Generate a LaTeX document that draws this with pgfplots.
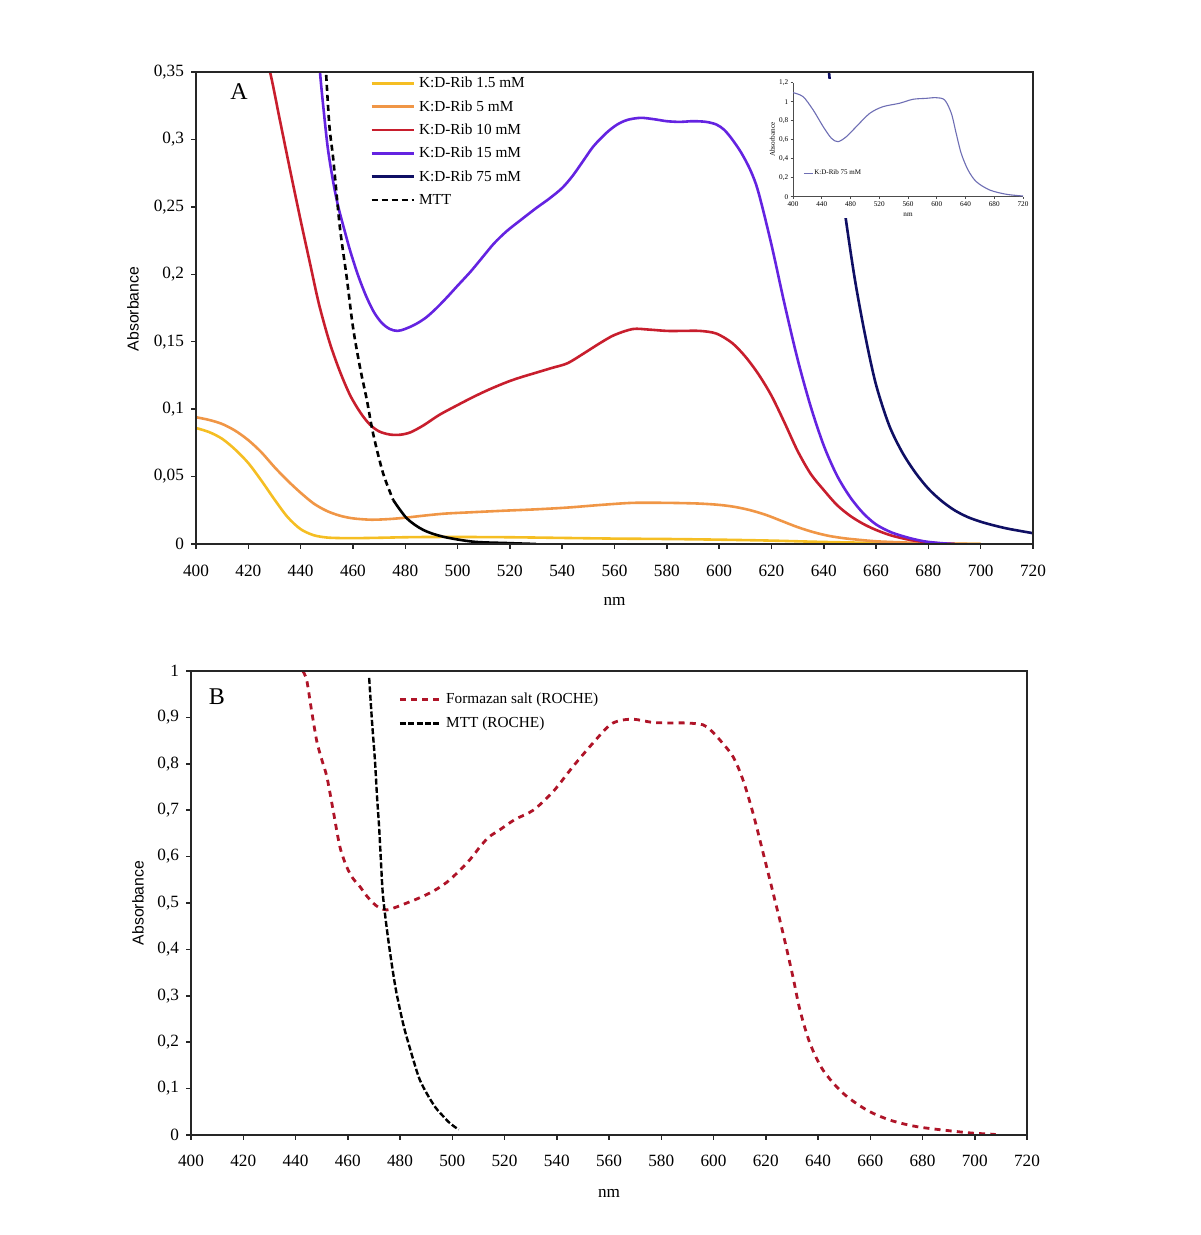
\documentclass[border=0pt]{standalone}
\usepackage{fontspec}
\setmainfont{Liberation Serif}
\newfontfamily\sansf{Liberation Sans}
\usepackage{pgfplots}
\pgfplotsset{compat=1.18}
\definecolor{cA}{RGB}{245,190,35}
\definecolor{cB}{RGB}{240,150,70}
\definecolor{cC}{RGB}{200,30,45}
\definecolor{cD}{RGB}{100,35,225}
\definecolor{cE}{RGB}{15,15,100}
\definecolor{cI}{RGB}{110,110,180}
\definecolor{cF}{RGB}{175,20,40}
\pgfplotsset{
  common/.style={
    scale only axis, anchor=south west,
    xmin=400, xmax=720, xtick={400,420,...,720},
    tick align=outside, tick pos=left, major tick length=2.5pt,
    axis line style={black!85, line width=0.75pt},
    every tick/.style={black!85, line width=0.75pt},
    tick label style={font=\fontsize{8.6}{10}\selectfont},
    /pgf/number format/assume math mode=true,
    /pgf/number format/use comma,
    /pgf/number format/1000 sep={},
    label style={font=\fontsize{8.6}{10}\selectfont},
    clip=true,
  },
}
\begin{document}
\begin{tikzpicture}
\path[use as bounding box] (0pt,0pt) rectangle (600pt,617.5pt);
% ---------------- Panel A ----------------
\begin{axis}[common, name=A,
  at={(98pt,345.5pt)}, width=418.5pt, height=236pt,
  ymin=0, ymax=0.35, ytick={0,0.05,...,0.35},
  yticklabel style={/pgf/number format/fixed, /pgf/number format/precision=2},
  xticklabel style={yshift=-4.5pt},
  axis on top,
  xlabel={nm}, ylabel={\sansf Absorbance},
  xlabel style={at={(axis description cs:0.5,-0.1220)}, anchor=center},
  ylabel style={at={(axis description cs:-0.0753,0.498)}, anchor=center, font=\fontsize{7.9}{9}\selectfont},
  legend cell align=left,
  legend image code/.code={\draw[#1] (0pt,0pt) -- (21pt,0pt);},
  legend style={at={(axis description cs:0.2079,0.9926)}, anchor=north west,
    draw=none, fill=none, inner sep=0pt, row sep=4.15pt, column sep=2pt,
    font=\fontsize{7.65}{9}\selectfont,
    nodes={inner sep=0pt, text height=6pt, text depth=1.5pt}},
]
\addplot[cA, line width=1.3pt, smooth] coordinates {
(400,0.086)(405,0.083)(410,0.078)(415,0.070)(420,0.060)(425,0.047)(430,0.033)
(435,0.020)(440,0.011)(445,0.0065)(450,0.0048)(455,0.0044)(460,0.0043)(470,0.0046)
(480,0.005)(490,0.0052)(500,0.0052)(520,0.005)(540,0.0045)(560,0.004)(580,0.0037)
(600,0.0032)(620,0.0025)(640,0.0015)(660,0.0008)(680,0.0003)(700,0)};
\addlegendentry{K:D-Rib 1.5 mM}
\addplot[cB, line width=1.3pt, smooth] coordinates {
(400,0.094)(405,0.092)(410,0.089)(415,0.084)(420,0.077)(425,0.068)(430,0.057)
(435,0.047)(440,0.038)(445,0.030)(450,0.0245)(455,0.021)(460,0.019)(467,0.018)
(474,0.0185)(480,0.0195)(487,0.021)(495,0.0225)(505,0.0235)(518,0.0247)(530,0.0257)
(542,0.027)(555,0.029)(567,0.0305)(580,0.0305)(592,0.030)(600,0.029)(606,0.0275)
(612,0.025)(618,0.0215)(624,0.017)(630,0.0125)(636,0.0088)(642,0.006)(648,0.0042)
(654,0.003)(660,0.002)(667,0.0014)(680,0.0006)(700,0)};
\addlegendentry{K:D-Rib 5 mM}
\addplot[cC, line width=1.3pt, smooth] coordinates {
(425,0.37)(428.3,0.35)(432,0.315)(436,0.277)(440,0.24)(443.6,0.208)(447,0.178)
(451,0.150)(455,0.128)(459,0.110)(463,0.097)(466.5,0.0885)(470,0.0835)(474,0.0812)
(478,0.081)(482,0.0828)(487,0.088)(493,0.0957)(500,0.103)(506,0.109)(512,0.1145)
(518.8,0.120)(524,0.1235)(530,0.127)(536,0.1305)(542,0.134)(548,0.141)(554.5,0.149)
(560,0.155)(567,0.1594)(573,0.159)(580,0.158)(586,0.158)(592.7,0.158)(599,0.156)
(605,0.149)(610,0.139)(615,0.126)(620,0.110)(625,0.090)(630,0.069)(635,0.052)
(640,0.040)(645,0.029)(650,0.021)(655,0.015)(660,0.0104)(666,0.0062)(673,0.003)
(679,0.0014)(685,0.0003)(690,0)};
\addlegendentry{K:D-Rib 10 mM}
\addplot[cD, line width=1.3pt, smooth] coordinates {
(445.5,0.40)(447.4,0.35)(449,0.318)(450.5,0.292)(452.5,0.268)(454.4,0.250)(457,0.231)
(459,0.217)(462,0.199)(465,0.184)(468,0.172)(471,0.164)(474,0.1595)(477,0.158)
(480,0.1595)(484,0.163)(488,0.168)(492,0.175)(496,0.183)(500,0.1915)(505,0.202)
(509.7,0.213)(514,0.223)(518.8,0.232)(524,0.240)(530,0.249)(535,0.256)(540,0.264)
(544,0.273)(548,0.284)(552,0.295)(557,0.305)(561,0.311)(565,0.3145)(570,0.316)
(575,0.315)(580,0.3135)(585,0.313)(590,0.3135)(595,0.313)(599,0.311)(602,0.307)
(605,0.300)(608.5,0.290)(612,0.277)(615,0.261)(620,0.222)(625,0.178)(630,0.137)
(635,0.102)(640,0.073)(645,0.051)(650,0.035)(655,0.023)(660,0.0145)(666,0.0085)
(673,0.0043)(679,0.0018)(685,0.0006)(690,0)};
\addlegendentry{K:D-Rib 15 mM}
\addplot[cE, line width=1.3pt, smooth] coordinates {
(636,0.46)(640,0.39)(642,0.35)(645,0.29)(648.5,0.240)(652,0.195)(656,0.153)(660,0.118)
(665,0.088)(670,0.068)(675,0.053)(680,0.041)(685,0.032)(690,0.025)(695,0.020)
(700,0.0165)(705,0.0138)(710,0.0115)(715,0.0097)(720,0.008)};
\addlegendentry{K:D-Rib 75 mM}
\addplot[black, line width=1.3pt, dash pattern=on 3pt off 2pt, smooth] coordinates {
(449,0.37)(449.7,0.35)(451,0.31)(452.5,0.285)(455,0.235)(457.6,0.198)(460,0.161)
(462.7,0.131)(465.3,0.107)(467.7,0.082)(471.5,0.0526)(475.4,0.0326)};
\addlegendentry{MTT}
\addplot[black, line width=1.3pt, smooth, forget plot] coordinates {
(475.4,0.0326)(480.6,0.019)(486.9,0.0104)(494.5,0.0054)(506,0.0017)(518.8,0.0007)(530,0)};
% white background of the inset
\fill[white] (axis cs:621,0.2417) rectangle (axis cs:719.5,0.3448);
\node[font=\fontsize{12}{14}\selectfont] at (axis description cs:0.0514,0.9576) {A};
\end{axis}
% ---------------- Inset ----------------
\begin{axis}[name=I,
  scale only axis, anchor=south west,
  at={(396.5pt,519.15pt)}, width=115pt, height=57pt,
  xmin=400, xmax=720, xtick={400,440,...,720},
  ymin=0, ymax=1.2, ytick={0,0.2,...,1.2},
  axis lines=left, axis line style={-, black!70, line width=0.4pt},
  tick align=outside, major tick length=1.2pt,
  every tick/.style={black!70, line width=0.4pt},
  tick label style={font=\fontsize{3.6}{4}\selectfont, inner sep=1pt},
  /pgf/number format/assume math mode=true,
  /pgf/number format/use comma,
  /pgf/number format/1000 sep={},
  xlabel={nm}, ylabel={Absorbance},
  label style={font=\fontsize{3.6}{4}\selectfont},
  xlabel style={at={(axis description cs:0.5,-0.16)}, anchor=center},
  ylabel style={at={(axis description cs:-0.09,0.5)}, anchor=center},
  legend image code/.code={\draw[#1] (0pt,0pt) -- (4.5pt,0pt);},
  legend style={at={(axis description cs:0.043,0.2)}, anchor=west, draw=none, fill=none,
    inner sep=0pt, font=\fontsize{3.5}{4}\selectfont, nodes={inner sep=0.5pt}},
]
\addplot[cI, line width=0.55pt, smooth] coordinates {
(400,1.095)(414,1.053)(428,0.913)(442,0.737)(453.4,0.615)(462.6,0.579)(474.3,0.632)
(488,0.737)(506.7,0.877)(525,0.947)(548,0.983)(566.7,1.025)(585,1.035)(599,1.042)
(611,1.018)(620.3,0.877)(627,0.667)(634,0.456)(643.5,0.281)(655,0.158)(673.7,0.07)
(697,0.025)(720,0.007)};
\addlegendentry{K:D-Rib 75 mM}
\end{axis}
% ---------------- Panel B ----------------
\begin{axis}[common, name=B,
  at={(95.5pt,50pt)}, width=418pt, height=232pt,
  ymin=0, ymax=1, ytick={0,0.1,...,1},
  yticklabel style={/pgf/number format/fixed, /pgf/number format/precision=1},
  xticklabel style={yshift=-4pt},
  axis on top,
  xlabel={nm}, ylabel={\sansf Absorbance},
  xlabel style={at={(axis description cs:0.5,-0.1250)}, anchor=center},
  ylabel style={at={(axis description cs:-0.0634,0.5)}, anchor=center, font=\fontsize{7.9}{9}\selectfont},
  legend cell align=left,
  legend image code/.code={\draw[#1] (0pt,0pt) -- (19.5pt,0pt);},
  legend style={at={(axis description cs:0.2476,0.9558)}, anchor=north west,
    draw=none, fill=none, inner sep=0pt, row sep=4.5pt, column sep=3pt,
    font=\fontsize{7.65}{9}\selectfont,
    nodes={inner sep=0pt, text height=6pt, text depth=1.5pt}},
]
\addplot[cF, line width=1.4pt, dash pattern=on 3pt off 2.6pt, smooth] coordinates {
(442.8,1.0)(444.3,0.98)(446,0.92)(448.1,0.85)(450,0.81)(452,0.772)(454.4,0.70)
(457,0.621)(459.6,0.578)(462,0.553)(464.7,0.535)(467,0.517)(469.7,0.50)(472,0.49)
(474.9,0.485)(478,0.49)(482.6,0.50)(487,0.51)(492.6,0.525)(498,0.545)(503,0.571)
(507,0.595)(510.6,0.621)(514,0.642)(518,0.657)(524,0.68)(531,0.70)(538.6,0.74)
(546.2,0.794)(553.9,0.845)(560.4,0.884)(565,0.894)(569.2,0.896)(573,0.893)(576.8,0.889)
(583,0.888)(589.7,0.888)(596,0.884)(599,0.872)(602.5,0.851)(607.5,0.815)(611.3,0.765)
(615.1,0.694)(619,0.608)(622.8,0.522)(626.6,0.435)(630.4,0.341)(633.1,0.269)
(636.9,0.198)(641.9,0.14)(649.6,0.09)(658.6,0.054)(667.6,0.032)(677.8,0.018)
(690.5,0.009)(699.3,0.004)(705.8,0.002)(708,0.001)};
\addlegendentry{Formazan salt (ROCHE)}
\addplot[black, line width=1.2pt, dash pattern=on 3pt off 1.2pt, smooth] coordinates {
(468.2,0.985)(469.3,0.89)(470.4,0.808)(471.2,0.73)(472,0.664)(472.7,0.59)(473.4,0.521)
(474.5,0.465)(475.7,0.413)(477.2,0.355)(478.7,0.305)(481.5,0.233)(485.1,0.162)
(487.5,0.12)(490.2,0.09)(493.5,0.06)(496.6,0.04)(499,0.026)(501.7,0.0145)(502.5,0.012)};
\addlegendentry{MTT (ROCHE)}
\node[font=\fontsize{12}{14}\selectfont] at (axis description cs:0.031,0.944) {B};
\end{axis}
\end{tikzpicture}
\end{document}
